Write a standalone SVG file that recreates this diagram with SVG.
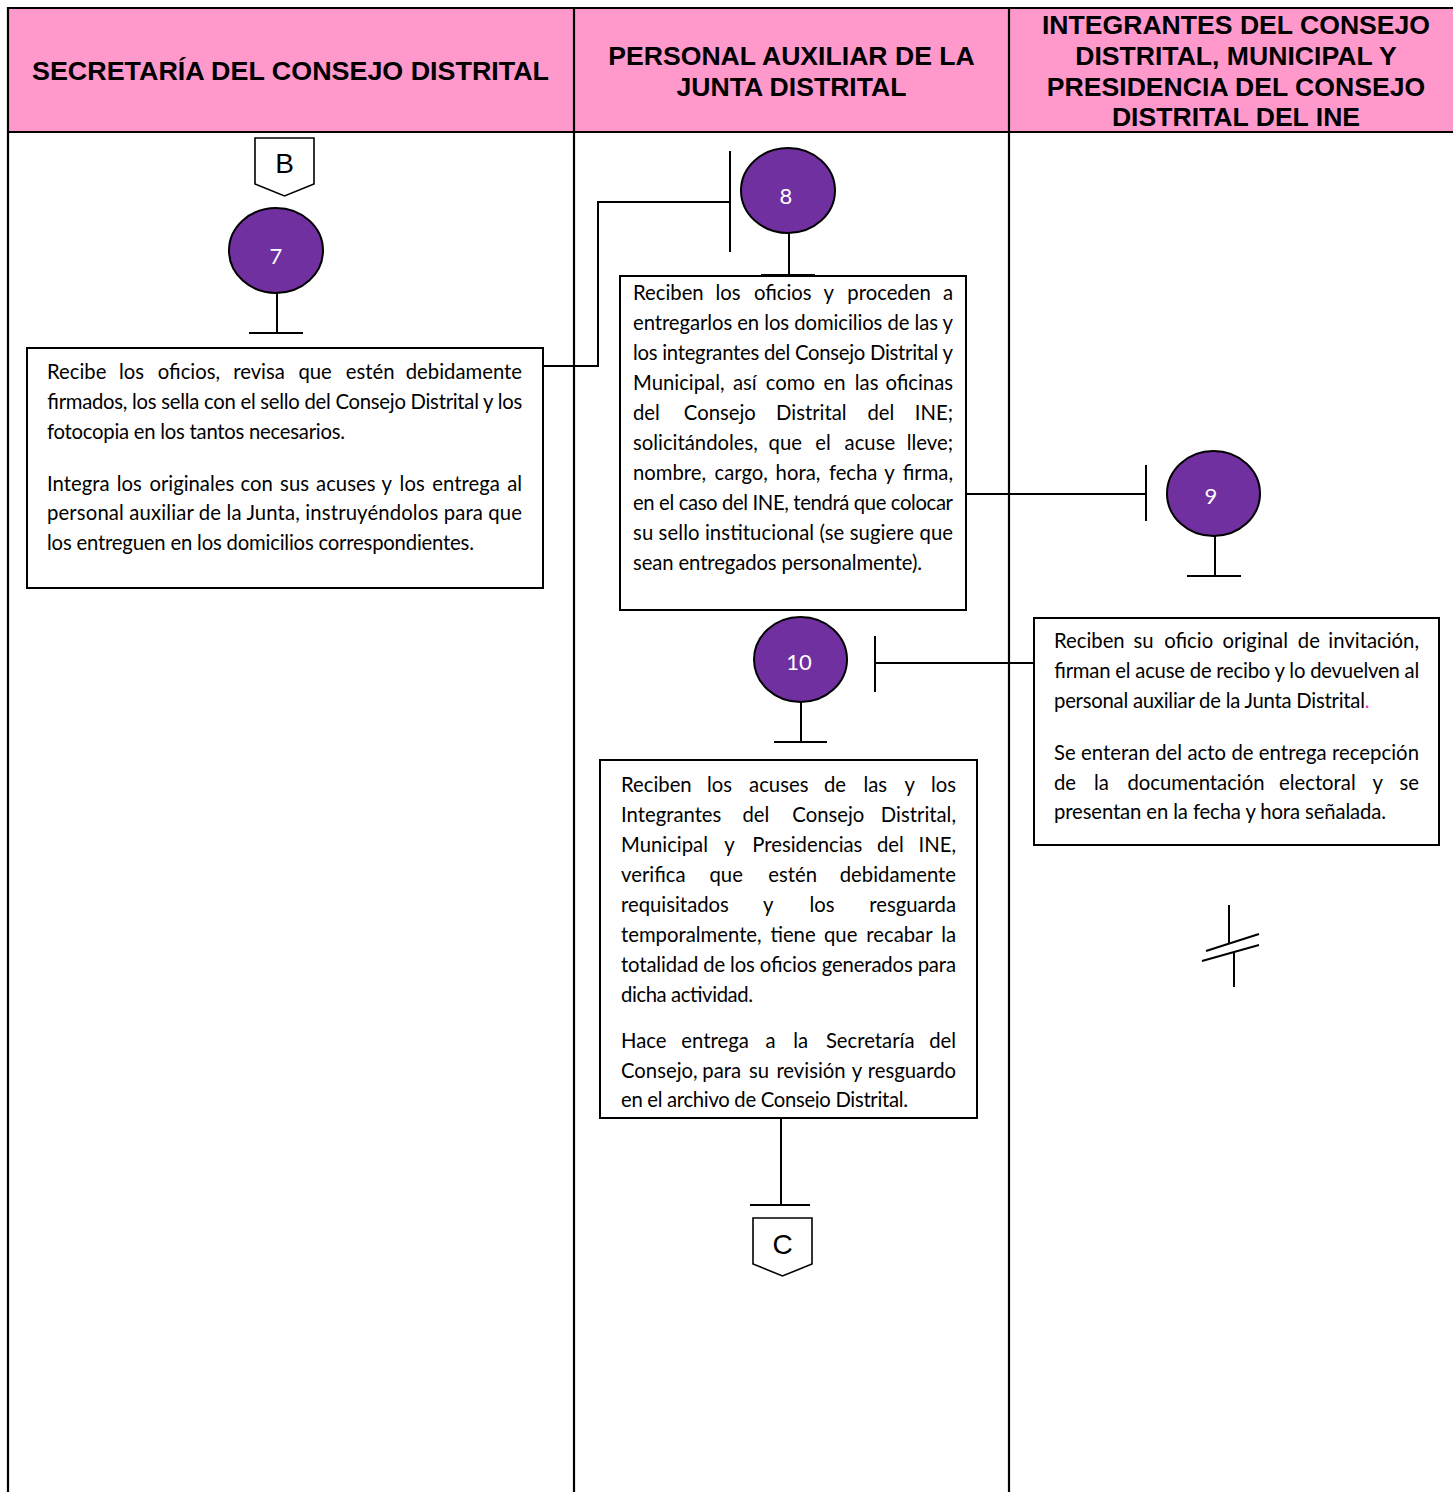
<svg xmlns="http://www.w3.org/2000/svg" width="1453" height="1492" viewBox="0 0 1453 1492">
<defs>
<style>
.t{font-family:Lato,"Carlito","Liberation Sans",sans-serif;font-size:20.3px;fill:#000}
.h{font-family:"Liberation Sans",Arial,sans-serif;font-weight:bold;font-size:26.6px;fill:#000;text-anchor:middle}
.ln{stroke:#000;stroke-width:2;fill:none}
.tbl{stroke:#000;stroke-width:2.2;fill:none}
.box{fill:#fff;stroke:#000;stroke-width:2}
.circ{fill:#7030A0;stroke:#000;stroke-width:2}
.num{font-family:Lato,"Carlito","Liberation Sans",sans-serif;font-size:22px;fill:#fff;text-anchor:middle}
.off{fill:#fff;stroke:#000;stroke-width:1.6}
.ol{font-family:"Liberation Sans",Arial,sans-serif;font-size:28px;fill:#000;text-anchor:middle}
.e{text-anchor:end}
</style>
<clipPath id="clip4"><rect x="600" y="760" width="378" height="347.8"/></clipPath>
</defs>
<rect width="1453" height="1492" fill="#fff"/>
<g id="table">
<rect x="8" y="8" width="1455" height="124" fill="#FF99CC"/>
<line class="tbl" x1="8" y1="8" x2="1460" y2="8"/>
<line class="tbl" x1="8" y1="132" x2="1460" y2="132"/>
<line class="tbl" x1="8" y1="7" x2="8" y2="1492"/>
<line class="tbl" x1="574" y1="8" x2="574" y2="1492"/>
<line class="tbl" x1="1009" y1="8" x2="1009" y2="1492"/>
<text class="h" x="290.5" y="79.5" textLength="517" lengthAdjust="spacingAndGlyphs">SECRETARÍA DEL CONSEJO DISTRITAL</text>
<text class="h" x="791.5" y="64.5">PERSONAL AUXILIAR DE LA</text>
<text class="h" x="791.5" y="95.5">JUNTA DISTRITAL</text>
<text class="h" x="1236" y="33.5">INTEGRANTES DEL CONSEJO</text>
<text class="h" x="1236" y="64.5">DISTRITAL, MUNICIPAL Y</text>
<text class="h" x="1236" y="95.5">PRESIDENCIA DEL CONSEJO</text>
<text class="h" x="1236" y="125.5">DISTRITAL DEL INE</text>
</g>
<g id="connectors">
<polyline class="ln" points="543,366 598,366 598,202 730,202"/>
<line class="ln" x1="730" y1="151" x2="730" y2="252"/>
<line class="ln" x1="966" y1="494" x2="1146" y2="494"/>
<line class="ln" x1="1146" y1="465" x2="1146" y2="521"/>
<line class="ln" x1="1034" y1="663" x2="875" y2="663"/>
<line class="ln" x1="875" y1="636" x2="875" y2="692"/>
<line class="ln" x1="781" y1="1119" x2="781" y2="1205"/>
<line class="ln" x1="750" y1="1205" x2="810" y2="1205"/>
<line class="ln" x1="277" y1="293" x2="277" y2="333"/>
<line class="ln" x1="249" y1="333" x2="303" y2="333"/>
<line class="ln" x1="789" y1="233" x2="789" y2="275"/>
<line class="ln" x1="761" y1="275" x2="815" y2="275"/>
<line class="ln" x1="1215" y1="536" x2="1215" y2="576"/>
<line class="ln" x1="1187" y1="576" x2="1241" y2="576"/>
<line class="ln" x1="801" y1="702" x2="801" y2="742"/>
<line class="ln" x1="774" y1="742" x2="827" y2="742"/>
</g>
<g id="node-B">
<polygon class="off" points="255,138 314,138 314,184 284.5,196 255,184"/>
<text class="ol" x="284.5" y="173">B</text>
</g>
<g id="node-7">
<ellipse class="circ" cx="276" cy="250.5" rx="47" ry="42.5"/>
<text class="num" x="276" y="264">7</text>
</g>
<g id="box-1">
<rect class="box" x="27" y="348" width="516" height="240"/>
<text class="t" y="379"><tspan x="47">Recibe</tspan><tspan x="118.9">los</tspan><tspan x="157.8">oficios,</tspan><tspan x="233.2">revisa</tspan><tspan x="298.4">que</tspan><tspan x="345.8">estén</tspan><tspan x="522" class="e">debidamente</tspan></text>
<text class="t" x="47" y="409" textLength="475" lengthAdjust="spacing">firmados, los sella con el sello del Consejo Distrital y los</text>
<text class="t" x="47" y="439" textLength="298" lengthAdjust="spacing">fotocopia en los tantos necesarios.</text>
<text class="t" y="491"><tspan x="47">Integra</tspan><tspan x="116.7">los</tspan><tspan x="149.4">originales</tspan><tspan x="240.5">con</tspan><tspan x="280.1">sus</tspan><tspan x="316.1">acuses</tspan><tspan x="381.5">y</tspan><tspan x="399.6">los</tspan><tspan x="432.3">entrega</tspan><tspan x="522" class="e">al</tspan></text>
<text class="t" x="47" y="520" textLength="475" lengthAdjust="spacing">personal auxiliar de la Junta, instruyéndolos para que</text>
<text class="t" x="47" y="550" textLength="427" lengthAdjust="spacing">los entreguen en los domicilios correspondientes.</text>
</g>
<g id="node-8">
<ellipse class="circ" cx="788" cy="190.5" rx="47" ry="42.5"/>
<text class="num" x="786" y="204">8</text>
</g>
<g id="box-2">
<rect class="box" x="620" y="276" width="346" height="334"/>
<text class="t" y="300"><tspan x="633">Reciben</tspan><tspan x="715.4">los</tspan><tspan x="753.9">oficios</tspan><tspan x="823.5">y</tspan><tspan x="847.3">proceden</tspan><tspan x="953" class="e">a</tspan></text>
<text class="t" x="633" y="330" textLength="320" lengthAdjust="spacing">entregarlos en los domicilios de las y</text>
<text class="t" x="633" y="360" textLength="320" lengthAdjust="spacing">los integrantes del Consejo Distrital y</text>
<text class="t" y="390"><tspan x="633">Municipal,</tspan><tspan x="732.9">así</tspan><tspan x="765.8">como</tspan><tspan x="823.5">en</tspan><tspan x="854.8">las</tspan><tspan x="953" class="e">oficinas</tspan></text>
<text class="t" y="420"><tspan x="633">del</tspan><tspan x="683.8">Consejo</tspan><tspan x="776.1">Distrital</tspan><tspan x="867.5">del</tspan><tspan x="953" class="e">INE;</tspan></text>
<text class="t" y="450"><tspan x="633">solicitándoles,</tspan><tspan x="768.6">que</tspan><tspan x="815.2">el</tspan><tspan x="844.6">acuse</tspan><tspan x="953" class="e">lleve;</tspan></text>
<text class="t" y="480"><tspan x="633">nombre,</tspan><tspan x="714.5">cargo,</tspan><tspan x="775.6">hora,</tspan><tspan x="828.9">fecha</tspan><tspan x="884.3">y</tspan><tspan x="953" class="e">firma,</tspan></text>
<text class="t" x="633" y="510" textLength="320" lengthAdjust="spacing">en el caso del INE, tendrá que colocar</text>
<text class="t" x="633" y="540" textLength="320" lengthAdjust="spacing">su sello institucional (se sugiere que</text>
<text class="t" x="633" y="570" textLength="289" lengthAdjust="spacing">sean entregados personalmente).</text>
</g>
<g id="node-9">
<ellipse class="circ" cx="1213.5" cy="493.5" rx="46.5" ry="42.5"/>
<text class="num" x="1211" y="504">9</text>
</g>
<g id="box-3">
<rect class="box" x="1034" y="618" width="405" height="227"/>
<text class="t" y="648"><tspan x="1054">Reciben</tspan><tspan x="1133.5">su</tspan><tspan x="1164.2">oficio</tspan><tspan x="1222.6">original</tspan><tspan x="1297.8">de</tspan><tspan x="1419" class="e">invitación,</tspan></text>
<text class="t" x="1054" y="678" textLength="365" lengthAdjust="spacing">firman el acuse de recibo y lo devuelven al</text>
<text class="t" y="708"><tspan x="1054" textLength="311" lengthAdjust="spacing">personal auxiliar de la Junta Distrital</tspan><tspan fill="#FF33CC">.</tspan></text>
<text class="t" x="1054" y="760" textLength="365" lengthAdjust="spacing">Se enteran del acto de entrega recepción</text>
<text class="t" y="790"><tspan x="1054">de</tspan><tspan x="1094">la</tspan><tspan x="1127.4">documentación</tspan><tspan x="1279">electoral</tspan><tspan x="1372.4">y</tspan><tspan x="1419" class="e">se</tspan></text>
<text class="t" x="1054" y="819" textLength="332" lengthAdjust="spacing">presentan en la fecha y hora señalada.</text>
</g>
<g id="node-10">
<ellipse class="circ" cx="800.5" cy="659.5" rx="46.5" ry="42.5"/>
<text class="num" x="799" y="670">10</text>
</g>
<g id="box-4">
<rect class="box" x="600" y="760" width="377" height="358"/>
<g clip-path="url(#clip4)">
<text class="t" y="792"><tspan x="621">Reciben</tspan><tspan x="707">los</tspan><tspan x="749.1">acuses</tspan><tspan x="823.9">de</tspan><tspan x="863.4">las</tspan><tspan x="904.5">y</tspan><tspan x="956" class="e">los</tspan></text>
<text class="t" y="822"><tspan x="621">Integrantes</tspan><tspan x="742.4">del</tspan><tspan x="792.3">Consejo</tspan><tspan x="956" class="e">Distrital,</tspan></text>
<text class="t" y="852"><tspan x="621">Municipal</tspan><tspan x="724.3">y</tspan><tspan x="752.3">Presidencias</tspan><tspan x="876.9">del</tspan><tspan x="956" class="e">INE,</tspan></text>
<text class="t" y="882"><tspan x="621">verifica</tspan><tspan x="709.5">que</tspan><tspan x="768.3">estén</tspan><tspan x="956" class="e">debidamente</tspan></text>
<text class="t" y="912"><tspan x="621">requisitados</tspan><tspan x="763">y</tspan><tspan x="809.5">los</tspan><tspan x="956" class="e">resguarda</tspan></text>
<text class="t" y="942"><tspan x="621">temporalmente,</tspan><tspan x="770.4">tiene</tspan><tspan x="824">que</tspan><tspan x="866.3">recabar</tspan><tspan x="956" class="e">la</tspan></text>
<text class="t" x="621" y="972" textLength="335" lengthAdjust="spacing">totalidad de los oficios generados para</text>
<text class="t" x="621" y="1002" textLength="132" lengthAdjust="spacing">dicha actividad.</text>
<text class="t" y="1048"><tspan x="621">Hace</tspan><tspan x="681.3">entrega</tspan><tspan x="765.4">a</tspan><tspan x="793.2">la</tspan><tspan x="825.9">Secretaría</tspan><tspan x="956" class="e">del</tspan></text>
<text class="t" y="1078"><tspan x="621">Consejo,</tspan><tspan x="702.3">para</tspan><tspan x="749">su</tspan><tspan x="776.4">revisión</tspan><tspan x="851.8">y</tspan><tspan x="956" class="e">resguardo</tspan></text>
<text class="t" x="621" y="1107" textLength="287" lengthAdjust="spacing">en el archivo de Consejo Distrital.</text>
</g>
</g>
<g id="node-C">
<polygon class="off" points="753,1218 812,1218 812,1264 782.5,1276 753,1264"/>
<text class="ol" x="782.5" y="1254">C</text>
</g>
<g id="node-end">
<line class="ln" x1="1229" y1="905" x2="1229" y2="943"/>
<line class="ln" x1="1206" y1="951" x2="1259" y2="934"/>
<line class="ln" x1="1202" y1="961" x2="1259" y2="945"/>
<line class="ln" x1="1234" y1="953" x2="1234" y2="987"/>
</g>
</svg>
